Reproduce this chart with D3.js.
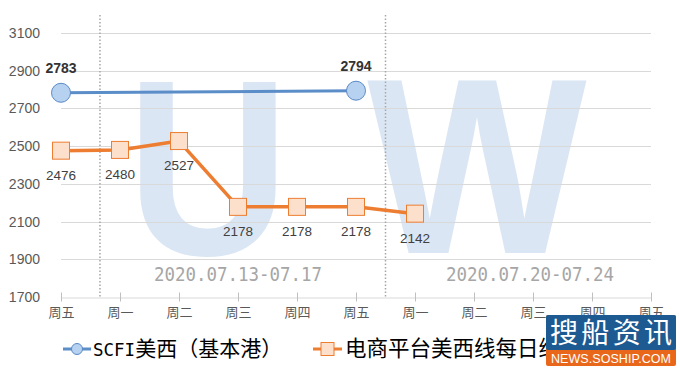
<!DOCTYPE html>
<html>
<head>
<meta charset="utf-8">
<script src="https://cdn.jsdelivr.net/npm/d3@7"></script>
<style>
  body { margin: 0; background: #fff; }
  svg { display: block; }
</style>
</head>
<body>
<svg class="chart"></svg>
<script>
// chart data
const days = ['周五', '周一', '周二', '周三', '周四', '周五', '周一', '周二', '周三', '周四', '周五'];
const scfiValues = [2783, null, null, null, null, 2794];
const ecomValues = [2476, 2480, 2527, 2178, 2178, 2178, 2142];
const yTicks = [1700, 1900, 2100, 2300, 2500, 2700, 2900, 3100];
const weekLabels = ['2020.07.13-07.17', '2020.07.20-07.24'];
const weekCenters = [3, 7.95];
const weekBreaks = [0.66, 5.5];
const seriesNames = ['SCFI美西（基本港）', '电商平台美西线每日综合价'];

const svgWidth = 680;
const svgHeight = 370;
const margin = { top: 33, right: 29, bottom: 73, left: 61 };
const chartWidth = svgWidth - margin.left - margin.right;
const chartHeight = svgHeight - margin.top - margin.bottom;

const blue = '#5b8dc9';
const orange = '#ed7d31';
const cjk = '"Noto Sans CJK SC", "Noto Sans", sans-serif';
const latin = '"Liberation Sans", Arial, sans-serif';

const svg = d3.select('.chart')
  .attr('width', svgWidth)
  .attr('height', svgHeight);

const chart = svg.append('g')
  .attr('transform', 'translate(' + margin.left + ',' + margin.top + ')');

// scales
const xScale = d3.scaleLinear()
  .domain([0, days.length - 1])
  .range([0, chartWidth]);

const yScale = d3.scaleLinear()
  .domain([1700, 3100])
  .range([chartHeight, 0]);

// big pale "U W" watermark behind everything
const wm = chart.append('g')
  .attr('fill', '#dae6f4')
  .attr('font-family', latin)
  .attr('font-weight', 'bold')
  .attr('font-size', 250)
  .attr('text-anchor', 'middle');

wm.append('text')
  .attr('transform', 'translate(' + (xScale(2.5) - 0.5) + ',' + (yScale(1700) - 42) + ') scale(0.9,1)')
  .text('U');

wm.append('text')
  .attr('transform', 'translate(' + (xScale(7.05)) + ',' + (yScale(1700) - 44) + ') scale(0.93,1)')
  .text('W');

// horizontal grid lines
chart.selectAll('.grid')
  .data(yTicks.slice(1))
  .enter()
  .append('line')
  .attr('class', 'grid')
  .attr('x1', 0)
  .attr('x2', chartWidth)
  .attr('y1', d => Math.round(yScale(d)) + 0.5)
  .attr('y2', d => Math.round(yScale(d)) + 0.5)
  .attr('stroke', '#d9d9d9')
  .attr('stroke-width', 1);

// y axis labels
const yAxisGroup = chart.append('g')
  .call(d3.axisLeft(yScale).tickValues(yTicks).tickFormat(d3.format('d')).tickSize(0).tickPadding(21));
yAxisGroup.select('.domain').remove();
yAxisGroup.selectAll('text')
  .attr('font-family', latin)
  .attr('font-size', '14px')
  .attr('fill', '#595959');

// x axis
const xAxisGroup = chart.append('g')
  .attr('transform', 'translate(0,' + (Math.round(chartHeight) + 0.5) + ')')
  .call(d3.axisBottom(xScale)
    .tickValues(d3.range(days.length))
    .tickFormat(i => days[i])
    .tickSizeInner(4)
    .tickSizeOuter(0)
    .tickPadding(6));
xAxisGroup.select('.domain').attr('stroke', '#d9d9d9');
xAxisGroup.selectAll('line')
  .attr('stroke', '#bfbfbf')
  .attr('y1', -5);
xAxisGroup.selectAll('text')
  .attr('font-family', cjk)
  .attr('font-size', '13px')
  .attr('fill', '#595959');

// dotted week separators
chart.selectAll('.week-break')
  .data(weekBreaks)
  .enter()
  .append('line')
  .attr('class', 'week-break')
  .attr('x1', d => xScale(d))
  .attr('x2', d => xScale(d))
  .attr('y1', -18)
  .attr('y2', chartHeight)
  .attr('stroke', '#a6a6a6')
  .attr('stroke-width', 1.5)
  .attr('stroke-dasharray', '1.5,2');

// week date labels
chart.selectAll('.week-label')
  .data(weekLabels)
  .enter()
  .append('text')
  .attr('class', 'week-label')
  .attr('x', (d, i) => xScale(weekCenters[i]) - 84)
  .attr('y', yScale(1700) - 16)
  .attr('font-family', '"DejaVu Sans Mono", monospace')
  .attr('font-size', '20px')
  .attr('textLength', 168)
  .attr('lengthAdjust', 'spacingAndGlyphs')
  .attr('fill', '#a6a6a6')
  .text(d => d);

// lines
const line = d3.line()
  .x(d => xScale(d.i))
  .y(d => yScale(d.v));

const scfiPoints = scfiValues.map((v, i) => ({ i: i, v: v })).filter(d => d.v !== null);
const ecomPoints = ecomValues.map((v, i) => ({ i: i, v: v }));

chart.append('path')
  .datum(scfiPoints)
  .attr('d', line)
  .attr('fill', 'none')
  .attr('stroke', blue)
  .attr('stroke-width', 3);

chart.append('path')
  .datum(ecomPoints)
  .attr('d', line)
  .attr('fill', 'none')
  .attr('stroke', orange)
  .attr('stroke-width', 3.5)
  .attr('stroke-linejoin', 'round');

// markers
chart.selectAll('.scfi-dot')
  .data(scfiPoints)
  .enter()
  .append('circle')
  .attr('class', 'scfi-dot')
  .attr('cx', d => xScale(d.i))
  .attr('cy', d => yScale(d.v))
  .attr('r', 9.5)
  .attr('fill', '#b7d2f0')
  .attr('stroke', '#5a8ac6')
  .attr('stroke-width', 1);

const sq = 17;
chart.selectAll('.ecom-dot')
  .data(ecomPoints)
  .enter()
  .append('rect')
  .attr('class', 'ecom-dot')
  .attr('x', d => xScale(d.i) - sq / 2)
  .attr('y', d => yScale(d.v) - sq / 2)
  .attr('width', sq)
  .attr('height', sq)
  .attr('fill', '#fce0cc')
  .attr('stroke', orange)
  .attr('stroke-width', 1);

// value labels
chart.selectAll('.scfi-label')
  .data(scfiPoints)
  .enter()
  .append('text')
  .attr('class', 'scfi-label')
  .attr('x', d => xScale(d.i))
  .attr('y', d => yScale(d.v) - 20)
  .attr('text-anchor', 'middle')
  .attr('font-family', latin)
  .attr('font-size', '14px')
  .attr('font-weight', 'bold')
  .attr('fill', '#333')
  .text(d => d.v);

chart.selectAll('.ecom-label')
  .data(ecomPoints)
  .enter()
  .append('text')
  .attr('class', 'ecom-label')
  .attr('x', d => xScale(d.i))
  .attr('y', d => yScale(d.v) + 29)
  .attr('text-anchor', 'middle')
  .attr('font-family', latin)
  .attr('font-size', '13.5px')
  .attr('fill', '#404040')
  .text(d => d.v);

// legend
const legend = svg.append('g').attr('transform', 'translate(0,349)');

const lg1 = legend.append('g').attr('transform', 'translate(63,0)');
lg1.append('line').attr('x1', 0).attr('x2', 28).attr('stroke', blue).attr('stroke-width', 3);
lg1.append('circle').attr('cx', 14).attr('r', 5.5).attr('fill', '#b7d2f0').attr('stroke', '#5a8ac6');
const t1 = lg1.append('text').attr('x', 30).attr('y', 7).attr('fill', '#000');
t1.append('tspan')
  .attr('font-family', '"DejaVu Sans Mono", monospace')
  .attr('font-size', '17.5px')
  .text(seriesNames[0].slice(0, 4));
t1.append('tspan')
  .attr('font-family', cjk)
  .attr('font-size', '21px')
  .text(seriesNames[0].slice(4));

const lg2 = legend.append('g').attr('transform', 'translate(313,0)');
lg2.append('line').attr('x1', 0).attr('x2', 29).attr('stroke', orange).attr('stroke-width', 3);
lg2.append('rect').attr('x', 8).attr('y', -6.5).attr('width', 13).attr('height', 13)
  .attr('fill', '#fce0cc').attr('stroke', orange);
lg2.append('text')
  .attr('x', 32)
  .attr('y', 7)
  .attr('font-family', cjk)
  .attr('font-size', '21.5px')
  .attr('fill', '#000')
  .text(seriesNames[1]);

// source site logo in the corner
const logo = svg.append('g').attr('transform', 'translate(546,315)');
logo.append('rect').attr('width', 130).attr('height', 51).attr('rx', 2).attr('fill', '#e8671b');
logo.append('rect').attr('width', 130).attr('height', 35).attr('rx', 2).attr('fill', '#1d5a92');
logo.append('text')
  .attr('x', 65)
  .attr('y', 28)
  .attr('text-anchor', 'middle')
  .attr('font-family', cjk)
  .attr('font-size', '28px')
  .attr('fill', '#fff')
  .attr('textLength', 122)
  .text('搜船资讯');
logo.append('text')
  .attr('x', 65)
  .attr('y', 48)
  .attr('text-anchor', 'middle')
  .attr('font-family', latin)
  .attr('font-size', '12.5px')
  .attr('fill', '#fff')
  .attr('textLength', 120)
  .text('NEWS.SOSHIP.COM');
</script>
</body>
</html>
